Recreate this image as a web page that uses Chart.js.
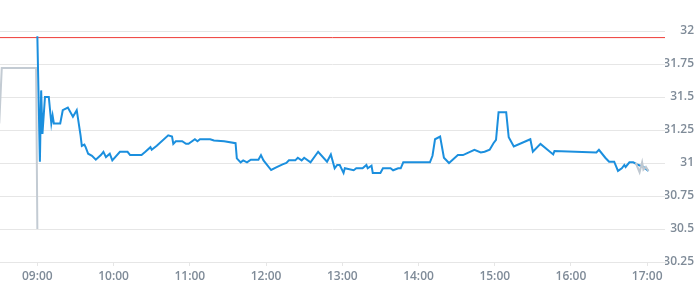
<!DOCTYPE html>
<html>
<head>
<meta charset="utf-8">
<script src="https://cdn.jsdelivr.net/npm/chart.js@4"></script>
<style>
  html, body { margin: 0; padding: 0; background: #fff; }
</style>
</head>
<body>
<canvas id="chart" width="695" height="300"></canvas>
<script>
// Pre-market (grey)
const preTimes = ["08:30", "08:32", "08:59", "09:00"];
const preValues = [31.30, 31.72, 31.72, 30.50];

// Trading session (blue)
const dayTimes = [
  "09:00", "09:02", "09:03", "09:04", "09:06", "09:09", "09:11", "09:12", "09:13", "09:18",
  "09:20", "09:24", "09:28", "09:31", "09:34", "09:35", "09:37", "09:38", "09:40", "09:43",
  "09:46", "09:50", "09:52", "09:54", "09:57", "09:59", "10:05", "10:11", "10:13", "10:22",
  "10:25", "10:29", "10:30", "10:34", "10:43", "10:46", "10:47", "10:49", "10:54", "10:57",
  "10:59", "11:04", "11:06", "11:08", "11:16", "11:19", "11:27", "11:36", "11:37", "11:40",
  "11:42", "11:45", "11:48", "11:54", "11:56", "11:58", "12:04", "12:08", "12:13", "12:16",
  "12:18", "12:23", "12:25", "12:28", "12:30", "12:35", "12:41", "12:48", "12:51", "12:54",
  "12:56", "12:58", "13:01", "13:02", "13:09", "13:11", "13:16", "13:19", "13:20", "13:23",
  "13:24", "13:30", "13:32", "13:38", "13:40", "13:44", "13:46", "13:48", "14:09", "14:11",
  "14:13", "14:17", "14:20", "14:24", "14:26", "14:31", "14:35", "14:44", "14:49", "14:52",
  "14:56", "14:59", "15:01", "15:03", "15:09", "15:11", "15:15", "15:28", "15:30", "15:36",
  "15:46", "15:47", "16:20", "16:22", "16:27", "16:30", "16:34", "16:37", "16:40", "16:42",
  "16:43", "16:46", "16:49", "16:52", "16:57", "17:01"
];
const dayValues = [
  31.96, 31.01, 31.55, 31.22, 31.50, 31.50, 31.30, 31.36, 31.30, 31.30,
  31.40, 31.42, 31.35, 31.40, 31.21, 31.13, 31.14, 31.12, 31.07, 31.055,
  31.025, 31.06, 31.085, 31.045, 31.07, 31.02, 31.085, 31.085, 31.06, 31.06,
  31.085, 31.12, 31.10, 31.13, 31.21, 31.20, 31.145, 31.165, 31.165, 31.145,
  31.145, 31.18, 31.165, 31.18, 31.18, 31.17, 31.165, 31.15, 31.035, 31.005,
  31.02, 31.005, 31.025, 31.025, 31.06, 31.02, 30.947, 30.967, 30.99, 31.00,
  31.02, 31.02, 31.04, 31.02, 31.04, 31.005, 31.085, 31.01, 31.065, 30.96,
  30.985, 30.985, 30.925, 30.96, 30.945, 30.96, 30.96, 30.985, 30.96, 30.98,
  30.925, 30.925, 30.96, 30.96, 30.945, 30.96, 30.96, 31.005, 31.005, 31.055,
  31.18, 31.20, 31.04, 31.00, 31.017, 31.06, 31.06, 31.10, 31.08, 31.085,
  31.10, 31.15, 31.175, 31.385, 31.385, 31.195, 31.125, 31.18, 31.085, 31.145,
  31.065, 31.09, 31.08, 31.10, 31.04, 31.01, 31.01, 30.94, 30.96, 30.985,
  30.97, 31.005, 31.005, 30.99, 30.97, 30.94
];

// After-hours (grey)
const postTimes = ["16:51", "16:54", "16:56", "16:57", "16:59", "17:01"];
const postValues = [31.00, 30.93, 31.005, 30.95, 30.97, 30.94];

// Previous close (red)
const refValue = 31.95;

// Tick labels
const hourTicks = ["09:00", "10:00", "11:00", "12:00", "13:00", "14:00", "15:00", "16:00", "17:00"];

// Axis range
const X_MIN = 510.6, X_MAX = 1034;
const Y_MIN = 30.25, Y_MAX = 32;

const LABEL_COLOR = "#7f8b98";
const GRID_COLOR = "#e6e6e6";

function toMin(t) {
    const p = t.split(":");
    return parseInt(p[0]) * 60 + parseInt(p[1]);
}

function pad(n) {
    return n < 10 ? "0" + n : "" + n;
}

function points(times, values) {
    return times.map((t, i) => ({ x: toMin(t), y: values[i] }));
}

const config = {
    type: "line",
    data: {
        datasets: [
            {
                data: points(postTimes, postValues),
                borderColor: "#bfc8d1",
                borderWidth: 2,
                order: 0
            },
            {
                data: points(dayTimes, dayValues),
                borderColor: "#1b8fde",
                borderWidth: 2,
                order: 1
            },
            {
                data: points(preTimes, preValues),
                borderColor: "#c3cbd3",
                borderWidth: 2,
                order: 2
            },
            {
                data: [{ x: X_MIN, y: refValue }, { x: X_MAX, y: refValue }],
                borderColor: "#ef3b36",
                borderWidth: 1,
                order: 3
            }
        ]
    },
    options: {
        responsive: false,
        animation: false,
        devicePixelRatio: 1,
        layout: { padding: { top: 31, left: 0, right: 1, bottom: 0 } },
        elements: {
            point: { radius: 0 },
            line: { tension: 0 }
        },
        plugins: {
            legend: { display: false },
            tooltip: { enabled: false }
        },
        scales: {
            x: {
                type: "linear",
                min: X_MIN,
                max: X_MAX,
                afterBuildTicks: scale => {
                    scale.ticks = hourTicks.map(t => ({ value: toMin(t) }));
                },
                afterFit: scale => { scale.height = 38; },
                grid: {
                    drawOnChartArea: false,
                    drawTicks: true,
                    tickLength: 4,
                    color: GRID_COLOR
                },
                border: { display: true, color: GRID_COLOR },
                ticks: {
                    autoSkip: false,
                    padding: 3,
                    maxRotation: 0,
                    color: LABEL_COLOR,
                    font: { family: "'Open Sans'", size: 12, weight: "600" },
                    callback: v => pad(Math.floor(v / 60)) + ":" + pad(v % 60)
                }
            },
            y: {
                position: "right",
                min: Y_MIN,
                max: Y_MAX,
                afterFit: scale => { scale.width = 29; },
                grid: {
                    color: GRID_COLOR,
                    drawTicks: false
                },
                border: { display: false },
                ticks: {
                    stepSize: 0.25,
                    padding: 0,
                    crossAlign: "far",
                    color: LABEL_COLOR,
                    font: { family: "'Open Sans'", size: 12, weight: "600" },
                    callback: v => String(+v.toFixed(2))
                }
            }
        }
    }
};

const myChart = new Chart(document.getElementById("chart"), config);
</script>
</body>
</html>
